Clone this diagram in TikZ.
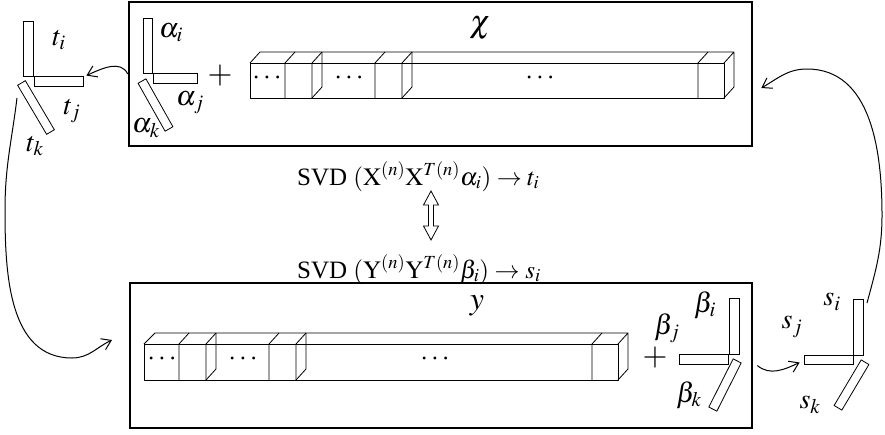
\documentclass[tikz,border=0pt]{standalone}
\usepackage{mathptmx}
\usepackage{fontspec}
\setmainfont{Liberation Serif}
\usetikzlibrary{arrows.meta}

\begin{document}
\begin{tikzpicture}[
  x=1pt, y=-1pt,
  frame/.style={draw, line width=2.6pt, inner sep=0pt},
  bar/.style={draw, line width=0.8pt, inner sep=0pt},
  lbl/.style={font=\fontsize{28}{32}\selectfont, inner sep=0pt},
  big/.style={font=\fontsize{32}{36}\selectfont, inner sep=0pt},
  dots/.style={font=\fontsize{28}{32}\selectfont, inner sep=0pt},
  txt/.style={font=\fontsize{25}{29}\selectfont, anchor=base west, inner sep=0pt},
  arr/.style={-{Straight Barb[length=9pt, width=12pt]}, line width=1pt},
  cube/.style={line width=0.8pt, line join=round},
]
\useasboundingbox (0,0) rectangle (885,434);

% Frames
\node[frame, minimum width=623, minimum height=144] (xbox) at (440.5,74) {};
\node[frame, minimum width=622, minimum height=145] (ybox) at (441,355.5) {};
\node[big] (chi) at (480,28) {$\chi$};
\node[big] (ylab) at (477,306) {$y$};

% alpha loadings
\node[bar, minimum width=9, minimum height=55] (ai) at (147.5,45.5) {};
\node[bar, minimum width=44, minimum height=10] (aj) at (175,78) {};
\node[bar, minimum width=55, minimum height=9, rotate=-60.6] (ak) at (155.5,105) {};
\node[lbl] (lai) at (171,33) {$\alpha_i$};
\node[lbl] (laj) at (190,103) {$\alpha_j$};
\node[lbl] (lak) at (146,128) {$\alpha_k$};
\node[big] (px) at (220,76) {$+$};

% t loadings
\node[bar, minimum width=10, minimum height=55] (ti) at (28,48.5) {};
\node[bar, minimum width=49, minimum height=10] (tj) at (58.5,81) {};
\node[bar, minimum width=57, minimum height=9, rotate=-59.4] (tk) at (36,107.5) {};
\node[lbl] (lti) at (59,40) {$t_i$};
\node[lbl] (ltj) at (72,111) {$t_j$};
\node[lbl] (ltk) at (35,146) {$t_k$};

% beta loadings
\node[bar, minimum width=10, minimum height=56] (bi) at (734,326) {};
\node[bar, minimum width=49, minimum height=10] (bj) at (703.5,359) {};
\node[bar, minimum width=54, minimum height=9, rotate=63.2] (bk) at (725,385) {};
\node[lbl] (lbi) at (705,305) {$\beta_i$};
\node[lbl] (lbj) at (667,328) {$\beta_j$};
\node[lbl] (lbk) at (689,395) {$\beta_k$};
\node[big] (py) at (655,358) {$+$};

% s loadings
\node[bar, minimum width=10, minimum height=56] (si) at (858.5,327) {};
\node[bar, minimum width=49, minimum height=9] (sj) at (828.5,359.5) {};
\node[bar, minimum width=53, minimum height=9, rotate=59.3] (sk) at (851.5,385) {};
\node[lbl] (lsi) at (832,302) {$s_i$};
\node[lbl] (lsj) at (792,327) {$s_j$};
\node[lbl] (lsk) at (810,405) {$s_k$};

% tensor X
\draw[cube] (250,63) rectangle (724,98);
\draw[cube] (250,63) -- (260,52) -- (734,52) -- (734,87) -- (724,98) (724,63) -- (734,52);
\foreach \x in {285,312,375,402,698}
  \draw[cube] (\x,63) -- (\x,98) (\x,63) -- ++(10,-11);
\foreach \x in {312,402}
  \draw[cube] (\x+10,52) -- (\x+10,87) -- (\x,98);
\node[dots] (dx1) at (267,78) {$\cdots$};
\node[dots] (dx2) at (349,78) {$\cdots$};
\node[dots] (dx3) at (540,78) {$\cdots$};

% tensor Y
\draw[cube] (144,344) rectangle (618,380);
\draw[cube] (144,344) -- (155,333) -- (628,333) -- (628,369) -- (618,380) (618,344) -- (628,333);
\foreach \x in {179,206,269,296,592}
  \draw[cube] (\x,344) -- (\x,380) (\x,344) -- ++(10,-11);
\foreach \x in {206,296}
  \draw[cube] (\x+10,333) -- (\x+10,369) -- (\x,380);
\node[dots] (dy1) at (162,359) {$\cdots$};
\node[dots] (dy2) at (243,359) {$\cdots$};
\node[dots] (dy3) at (435,359) {$\cdots$};

% SVD relations
\node[txt] (svdx) at (297,185) {SVD $(\mathrm{X}^{(n)}\mathrm{X}^{T(n)}\alpha_i) \rightarrow t_i$};
\node[txt] (svdy) at (297,278) {SVD $(\mathrm{Y}^{(n)}\mathrm{Y}^{T(n)}\beta_i) \rightarrow s_i$};
\draw[line width=0.8pt, line join=miter] (431,191) -- (438.5,205) -- (433.5,205) -- (433.5,226)
  -- (438.5,226) -- (431,240) -- (423.5,226) -- (428.5,226) -- (428.5,205) -- (423.5,205) -- cycle;

% Connectors
\coordinate (tfoot) at (17,98);
\coordinate (yin) at (112,340);
\coordinate (stop) at (867,303);
\draw[arr] (xbox.west) to[out=115, in=25] ([xshift=3pt]tj.north east);
\draw[arr] (tfoot) to[out=-97, in=90] (5,210) to[out=-90, in=180] (72,358) to[out=0, in=205] (yin);
\draw[arr] ([xshift=4pt, yshift=-10pt]ybox.east) to[out=-40, in=205] ([xshift=-4pt, yshift=-3pt]sj.west);
\draw[arr] (stop) to[out=75, in=-90] (882,215) to[out=90, in=0] (807,69) to[out=180, in=30] ([xshift=8pt, yshift=-14pt]xbox.east);

\end{tikzpicture}
\end{document}
